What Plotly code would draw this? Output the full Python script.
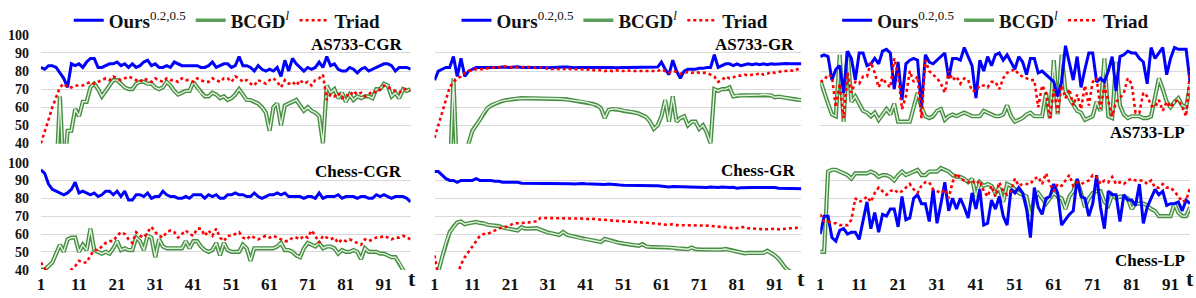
import plotly.graph_objects as go

# ---------------- data ----------------
panel_titles = ["AS733-CGR", "AS733-GR", "AS733-LP", "Chess-CGR", "Chess-GR", "Chess-LP"]
series_names = ["<b>Ours</b><sup><span style='font-size:13px'>0.2,0.5</span></sup>",
                "<b>BCGD</b><sup><i><span style='font-size:13px'>l</span></i></sup>",
                "<b>Triad</b>"]
x_tick_labels = [1, 11, 21, 31, 41, 51, 61, 71, 81, 91]
y_tick_labels = [40, 50, 60, 70, 80, 90, 100]

as_cgr_ours = [82,81,83,83,82,79,76,71,84,83, 84,82,85,87,87,82,82,83,84,84,
               85,83,84,82,84,82,83,85,86,83, 84,82,82,83,82,85,84,83,83,83,
               83,83,82,82,83,85,82,83,84,84, 82,83,88,83,83,82,80,83,81,80,
               81,80,82,77,86,80,87,84,82,80, 82,81,82,85,82,88,83,84,81,80,
               80,82,81,79,81,82,80,81,82,83, 84,84,83,80,82,82,82,81]
as_cgr_triad = [40,46,53,60,66,71,73,71,71,72, 72,72,73,74,73,74,75,76,75,77,
                76,75,76,77,76,75,74,76,75,74, 76,75,74,76,75,75,74,76,75,75,
                74,76,75,74,74,76,75,74,76,76, 74,77,76,74,75,73,72,75,74,73,
                75,76,74,71,75,73,74,72,75,73, 74,72,75,76,78,64,67,66,68,65,
                67,66,69,67,68,66,67,69,68,70, 72,71,70,69,68,70,70,69]
as_cgr_bcgd = [20,20,20,20,20,66,20,47,47,59, 55,63,63,71,73,70,66,69,72,75,
               75,73,71,70,70,73,74,74,73,73, 71,70,71,74,72,69,67,68,69,69,
               74,71,68,66,66,68,67,65,66,64, 65,67,70,67,64,64,63,62,60,57,
               47,60,62,50,61,62,63,64,61,58, 60,58,57,55,40,72,68,70,65,68,
               63,67,64,66,65,66,66,65,70,70, 73,72,66,68,65,70,69,70]

as_gr_ours = [75,80,81,82,82,88,77,87,77,80, 81,82,82,82,82.2,82,81.8,82,82.3,82.1,
              82,82.2,82.4,82,82,82.3,82.1,82,82.2,82, 81.8,82,82.1,82,82.2,82.3,82,81.9,82,82,
              82.1,82.4,82,82,82.2,82.4,82,82,81.8,82.1, 82,82,82,82,82,82,82,82,82,82.2,
              85,81,78,86,80,76,80,81,81,81, 81.5,81.5,82,82,89,82,83,84,84,83,
              84,83,83.5,84,83.5,84,83.5,84,83.5,84, 83.8,84,84,84.2,84,84,84,84]
as_gr_triad = [43,50,58,65,71,74,76,77,79,80, 80.5,81,81,81,81.5,82,82,82,82.5,82.5,
               82,82.5,82,82,82.5,82,81.8,82,82,81.5, 81.5,81,81.5,81,81,81.5,81,81,81,81,
               80.5,81,80.5,80.5,80.5,80,80.5,80,80.5,80, 80,80.5,80,80,80,80,80,80,80,80,
               81,80,79,80,79.5,78.5,79,79.5,79,79.5, 79,79,79,78,77,74,75,77,76,76.5,
               77.5,77.5,78,77.5,78,78,79,78,78.5,79.5, 79,79.5,80,80,80.5,80,81,82]
as_gr_bcgd = [20,20,20,20,20,76,20,20,28,40, 47,50,53,57,59.5,61,62,63,63.5,64,
              64.4,64.6,64.8,65,65,65,65,65,65,65, 65,65,64.8,64.7,64.5,64.3,64,63.8,63.5,63.2,
              62.8,62.3,61.8,61,59.5,54,58.5,59,59,58.5, 58,57.8,57.5,57,56.5,55.5,54.5,52,48,50,
              55,64,52,66,52,54,55,50,52,52, 48,50,46,40,70,69,70,70,71,66,
              66.5,66.5,66.5,66.5,66.6,66.7,66.8,67,66.9,66.6, 65.5,65.8,65.5,65,64.8,64.5,64.2,64]

as_lp_ours = [88,89,88,75,81,83,68,91,87,75, 90,90,83,84,87,84,91,92,90,70,
              85,64,84,86,87,86,60,89,85,84, 86,88,90,76,87,87,86,93,88,83,
              65,86,80,88,83,89,90,86,89,85, 81,88,85,78,87,87,79,80,78,76,
              74,66,74,94,85,75,88,71,81,90, 90,74,76,74,80,88,69,88,89,91,
              90,90,87,85,73,93,87,90,93,78, 87,93,92,92,92,74]
as_lp_triad = [74,75,78,77,60,73,54,79,68,74, 73,77,77,85,79,71,76,73,71,87,
               78,59,66,80,74,77,54,86,80,78, 76,73,68,80,75,77,73,76,75,69,
               69,72,72,71,74,74,70,76,79,80, 81,78,77,76,75,75,60,72,68,54,
               70,57,72,65,70,61,67,59,72,61, 74,76,59,72,63,55,63,65,68,76,
               73,57,57,68,66,61,60,64,58,63, 60,63,64,60,55,80]
as_lp_bcgd = [75,68,62,56,55,89,52,91,63,66, 62,58,57,55,57,53,56,59,56,62,
              52,52,52,52,60,68,60,55,54,55, 58,59,53,55,56,55,56,57,56,55,
              55,55,58,57,56,55,55,56,61,55, 52,53,54,56,57,55,55,55,68,54,
              86,56,89,69,65,61,58,57,53,54, 55,63,58,87,55,54,85,61,56,54,
              55,55,55,54,54,55,66,76,70,63, 60,63,65,61,60,72]

ch_cgr_ours = [96,94,88,85,84,83,82,83,85,89, 83,84,83,82,83,81,82,84,84,82,
               84,81,84,79,79,82,82,81,83,80, 81,81,84,82,81,81,80,80,81,80,
               82,82,82,80,82,81,82,80,80,82, 82,83,82,82,81,81,83,81,80,81,
               82,82,83,82,83,81,81,81,81,80, 81,81,80,83,80,81,81,81,82,80,
               81,81,81,80,81,81,80,80,82,81, 82,81,80,81,81,81,80,78]
ch_cgr_triad = [44,41,36,33,32,32,34,37,40,42, 45,44,44,48,51,51,53,55,56,56,
                59,61,60,57,55,61,59,58,61,64, 61,59,58,61,62,61,58,60,62,60,
                59,63,63,59,62,59,63,58,56,59, 59,60,61,58,57,59,58,57,58,59,
                58,59,58,57,56,56,58,58,57,59, 58,62,59,55,59,58,57,58,55,57,
                56,57,56,55,54,57,56,57,58,58, 59,58,57,58,58,59,58,57]
ch_cgr_bcgd = [40,40,42,44,49,54,50,57,58,58, 50,54,51,63,51,50,49,50,49,52,
               56,51,52,51,51,58,56,51,59,58, 47,57,53,52,52,52,52,52,56,52,
               56,56,53,51,50,51,55,48,55,51, 50,50,50,54,52,45,52,52,52,52,
               52,52,53,55,51,51,50,48,47,52, 55,54,53,55,52,53,53,52,49,51,
               50,50,51,50,46,52,50,50,50,49, 49,48,47,47,44,40,36,34]

ch_gr_ours = [95,95,93,91,90,90,89,90,90,90, 90,91,90,90,90,90,89.5,89.5,89,89,
              89,89,89,88.5,88.5,88.3,88.3,88.3,88.3,88.3, 88.5,88.3,88.5,88.3,88.2,88.4,88.2,88,88.2,88.3,
              88.1,88,88.2,88,87.9,87.8,88,87.7,87.6,87.4, 87.3,87.3,87.5,87.3,87.4,87.2,87.3,87.2,87.1,87,
              86.8,86.5,86.4,86.6,86.5,86.4,86.5,86.3,86.1,86, 85.9,86,86.1,86.4,86.2,86,86.3,86.1,86,86.2,
              85.7,85.9,86.1,86,86.1,86,86,86.2,86.3,86, 86.1,85.6,85.7,85.7,85.5,85.5,85.4,85.4]
ch_gr_triad = [48,36,32,30,30,32,37,43,47,50, 53,56,59,60,60,61,62,63,64,64,
               65,66,66,66,66.5,66.5,67,67,69,69, 68.6,69,68.8,68.6,69,68.6,69,69,68.7,68.8,
               68.6,68.3,68.5,68.2,68.2,67.8,67.8,67.5,67.4,67.4, 67.2,67,67,66.8,66.8,66.6,66.3,66.1,66,65.8,
               65.5,65.2,65.3,65.4,65,65,65,64.8,64.8,64.6, 64.6,64.8,64.7,64.5,64.3,64.5,64.2,63.8,63.6,63,
               63.2,63.6,64,63.2,63,63.1,62.8,62.7,62.7,62.8, 63,62.6,62.8,63.4,63.2,63.2,63.5,63.3]
ch_gr_bcgd = [36,39,47,55,61,64,66.5,67,65.5,66, 66.5,66.8,66.2,66,65.2,65,64.8,64.4,63.6,63.3,
              63,62.6,62,63.8,63,63,63,63.3,62.4,61.5, 60.8,60.4,59.8,59.4,61.2,59.6,59,58.4,57.8,57.4,
              57.2,56.8,56.5,55.8,55.5,57.3,56.6,56,55.3,55, 54.6,54.3,54,53.6,53.4,54.3,53,52.8,52.8,52.8,
              52.8,52.8,52.5,52.3,52,51.7,51.5,51.5,52.4,51.5, 51.4,51.3,51.2,51.2,51.2,51.2,51.3,51.6,51,50.5,
              50,49.4,49.2,49.4,49.3,49.2,49.2,49.4,50.6,49.5, 48,46,43,40.5,39,38,37,36]

ch_lp_ours = [60,70,70,58,56,62,63,60,61,61, 57,68,78,63,72,61,71,70,74,74,
              64,81,68,69,80,82,77,77,67,85, 66,77,89,73,80,74,80,75,69,83,
              74,85,65,66,79,74,81,70,65,85, 83,86,83,74,58,86,75,71,80,81,
              88,83,65,68,71,73,91,81,80,70, 77,93,75,63,84,82,82,67,82,79,
              79,76,88,66,75,80,85,82,84,76, 77,77,78,73,79,77]
ch_lp_triad = [71,67,67,66,66,65,65,65,68,80, 78,79,81,78,83,86,84,82,84,85,
               83,84,86,88,85,83,87,89,89,85, 84,83,85,80,89,94,91,90,89,90,
               88,90,84,81,87,81,89,84,82,84, 91,87,88,88,88,91,92,88,94,88,
               84,88,87,90,93,87,89,88,89,90, 93,92,88,90,89,92,88,89,88,90,
               91,90,90,90,88,90,86,86,88,86, 86,84,81,78,79,86]
ch_lp_bcgd = [50,50,95,96,96,95,94,93,91,94, 94,94,94,95,94,92,93,93,92,90,
              93,95,93,94,95,96,93,93,95,95, 95,97,96,95,93,92,92,91,89,91,
              81,89,87,88,87,83,86,78,88,87, 85,83,82,81,70,80,83,80,77,80,
              83,81,80,74,81,84,90,83,75,80, 83,84,84,78,76,82,80,81,81,80,
              74,77,77,77,76,74,73,70,70,70, 70,77,72,70,70,75]

panels = [
    (as_cgr_ours, as_cgr_bcgd, as_cgr_triad),
    (as_gr_ours, as_gr_bcgd, as_gr_triad),
    (as_lp_ours, as_lp_bcgd, as_lp_triad),
    (ch_cgr_ours, ch_cgr_bcgd, ch_cgr_triad),
    (ch_gr_ours, ch_gr_bcgd, ch_gr_triad),
    (ch_lp_ours, ch_lp_bcgd, ch_lp_triad),
]

# ---------------- layout geometry (pixels) ----------------
W, H = 1196, 298
def px(x):
    return x / W
def py(y):
    return 1 - y / H

col_px = [(37, 408), (432, 800), (819, 1190)]
row_px = [(29, 144), (163.5, 277)]
legend_cx = [224, 613, 995]

SERIF = "Liberation Serif"
BLUE = "#0000ff"
RED = "#ff0000"
GREEN_OUT = "#468f42"
GREEN_IN = "#e2f0df"

fig = go.Figure()

for i, (ours, bcgd, triad) in enumerate(panels):
    r, c = divmod(i, 3)
    ax = "" if i == 0 else str(i + 1)
    xref, yref = "x" + ax, "y" + ax
    leg = "legend" if c == 0 else "legend" + str(c + 1)
    show = (r == 0)
    n = len(ours)
    xs = list(range(1, n + 1))
    # BCGD: double line (outer green + light inner)
    fig.add_trace(go.Scatter(x=xs, y=bcgd, mode="lines", name=series_names[1],
                             line=dict(color=GREEN_OUT, width=4.2), xaxis=xref, yaxis=yref,
                             legend=leg, showlegend=False))
    fig.add_trace(go.Scatter(x=xs, y=bcgd, mode="lines", name=series_names[1],
                             line=dict(color=GREEN_IN, width=1.4), xaxis=xref, yaxis=yref,
                             legend=leg, showlegend=False))
    fig.add_trace(go.Scatter(x=xs, y=ours, mode="lines", name=series_names[0],
                             line=dict(color=BLUE, width=3), xaxis=xref, yaxis=yref,
                             legend=leg, showlegend=show, legendrank=1))
    if show:
        fig.add_trace(go.Scatter(x=[None], y=[None], mode="lines", name=series_names[1],
                                 line=dict(color="#5aa05a", width=3.5), xaxis=xref, yaxis=yref,
                                 legend=leg, showlegend=True, legendrank=2))
    fig.add_trace(go.Scatter(x=xs, y=triad, mode="lines", name=series_names[2],
                             line=dict(color=RED, width=2.6, dash="dot"), xaxis=xref, yaxis=yref,
                             legend=leg, showlegend=show, legendrank=3))

    x0, x1 = col_px[c]
    y0, y1 = row_px[r]
    fig.layout["xaxis" + ax] = dict(
        domain=[px(x0), px(x1)], range=[1, n], anchor=yref,
        showgrid=False, zeroline=False, showline=False,
        tickvals=x_tick_labels if r == 1 else [],
        ticktext=[str(v) for v in x_tick_labels] if r == 1 else [],
        showticklabels=(r == 1), ticks="", ticklabelstandoff=2,
        tickfont=dict(family=SERIF, size=17, color="#111111", weight="bold"),
    )
    fig.layout["yaxis" + ax] = dict(
        domain=[py(y1), py(y0)], range=[39.8, 100.2], anchor=xref,
        showgrid=True, gridcolor="#d9d9d9", gridwidth=1, zeroline=False, showline=False,
        tickvals=y_tick_labels, showticklabels=(c == 0), ticks="", ticklabelstandoff=11,
        tickfont=dict(family=SERIF, size=14, color="#111111", weight="bold"),
    )

# legends (one per column)
for c in range(3):
    key = "legend" if c == 0 else "legend" + str(c + 1)
    fig.layout[key] = dict(
        x=px(legend_cx[c]), xanchor="center", y=1.02, yanchor="top",
        orientation="h", bgcolor="rgba(0,0,0,0)", borderwidth=0,
        font=dict(family=SERIF, size=19, color="#111111"),
        itemwidth=30, tracegroupgap=0, traceorder="normal",
    )

# panel titles
title_pos = [(401, 40), (795, 40), (1187, 132), (401, 173), (796, 172), (1187, 267)]
for i, (tx, ty) in enumerate(title_pos):
    fig.add_annotation(text="<b>" + panel_titles[i] + "</b>", xref="paper", yref="paper",
                       x=px(tx), y=py(ty), xanchor="right", yanchor="middle", showarrow=False,
                       font=dict(family=SERIF, size=17, color="#000000"))

# 't' axis labels
for tx in [409, 800, 1190]:
    fig.add_annotation(text="<b>t</b>", xref="paper", yref="paper",
                       x=px(tx), y=py(286), xanchor="center", yanchor="middle", showarrow=False,
                       font=dict(family=SERIF, size=22, color="#111111"))

fig.update_layout(
    width=W, height=H, margin=dict(l=0, r=0, t=0, b=0),
    paper_bgcolor="white", plot_bgcolor="white",
    font=dict(family=SERIF),
)

fig.write_html("out.html", config={"displayModeBar": False},
               post_script="document.body.style.margin='0';document.body.style.overflow='hidden';document.documentElement.style.overflow='hidden';")
